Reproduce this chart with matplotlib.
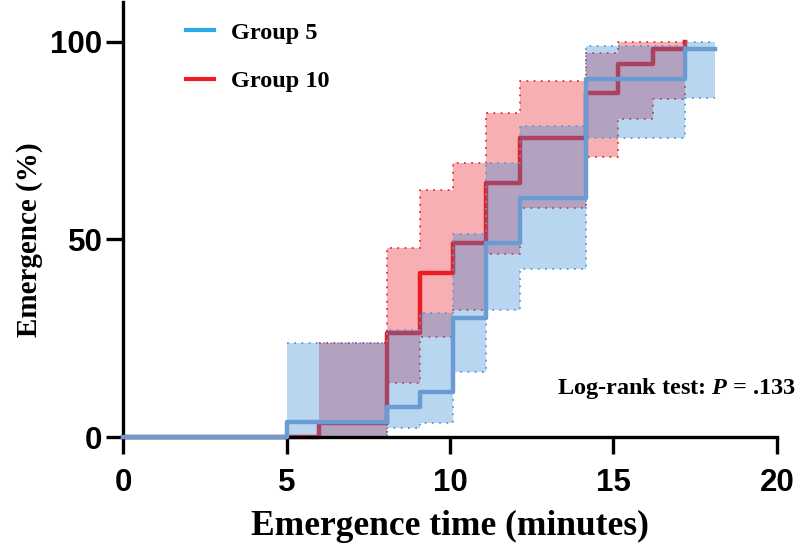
import matplotlib
matplotlib.use("Agg")
import matplotlib.pyplot as plt
from matplotlib.lines import Line2D

# ---- data ----
t5 = [0, 5.0, 8.07, 9.07, 10.1, 11.1, 12.15, 14.15, 17.2, 18.1]
s5 = [0, 3.8, 7.6, 11.4, 30.1, 49.0, 60.5, 90.6, 98.2, 98.2]
hi5 = [0, 23.8, 27.0, 31.4, 51.4, 69.3, 78.6, 99.0, 100, 100]
lo5 = [0, 0, 2.3, 3.6, 16.5, 32.1, 42.5, 75.5, 85.8, 85.8]

t10 = [0, 6.0, 8.07, 9.07, 10.1, 11.1, 12.15, 14.15, 15.15, 16.2, 17.2]
s10 = [0, 3.5, 26.3, 41.5, 49.0, 64.3, 75.5, 87.0, 94.4, 98.2, 100]
hi10 = [0, 23.8, 47.8, 62.5, 69.3, 82.0, 90.0, 97.2, 100, 100, 100]
lo10 = [0, 0, 13.7, 25.3, 32.1, 46.3, 58.0, 70.9, 80.5, 85.6, 100]

groups = ["Group 5", "Group 10"]
xticks = [0, 5, 10, 15, 20]
yticks = [0, 50, 100]
annot = "Log-rank test: $\\boldsymbol{P}$ = .133"

# ---- styles ----
blue_line = "#6A9BD2"
blue_fill = "#348AD4"
blue_dot = "#5B9BD8"
red_line = "#EC1C24"
red_fill = "#F7AFB4"
red_dot = "#E8303A"
leg_blue = "#2EA8E0"
leg_red = "#EE1C24"

plt.rcParams["mathtext.fontset"] = "custom"
plt.rcParams["mathtext.bfit"] = "Liberation Serif:bold:italic"

fig = plt.figure(figsize=(8.0, 5.52), dpi=100)
ax = fig.add_axes([0.154, 0.2083, 0.817, 0.788])

dot = (0, (1, 3))

# red group (drawn first)
ax.fill_between(t10, lo10, hi10, step="post", color=red_fill, lw=0, zorder=1)
ax.step(t10[1:], hi10[1:], where="post", color=red_dot, lw=1.3, ls=dot, zorder=2)
ax.step(t10[1:], lo10[1:], where="post", color=red_dot, lw=1.3, ls=dot, zorder=2)
ax.step(t10, s10, where="post", color=red_line, lw=3.2, zorder=3, clip_on=False)

# blue group
ax.fill_between(t5, lo5, hi5, step="post", color=blue_fill, alpha=0.35, lw=0, zorder=4)
ax.step(t5[1:], hi5[1:], where="post", color=blue_dot, lw=1.3, ls=dot, zorder=5)
ax.step(t5[1:], lo5[1:], where="post", color=blue_dot, lw=1.3, ls=dot, zorder=5)
ax.step(t5, s5, where="post", color=blue_line, lw=3.2, zorder=6, clip_on=False)

ax.set_xlim(0, 20)
ax.set_ylim(0, 110)
ax.set_xticks(xticks)
ax.set_yticks(yticks)

for side in ["top", "right"]:
    ax.spines[side].set_visible(False)
for side in ["left", "bottom"]:
    ax.spines[side].set_linewidth(2.4)
    ax.spines[side].set_zorder(5.5)

ax.tick_params(axis="both", direction="out", length=12, width=2.4, color="black")
ax.tick_params(axis="x", pad=10)
ax.tick_params(axis="y", pad=3)
for lab in ax.get_xticklabels() + ax.get_yticklabels():
    lab.set_fontfamily("Liberation Sans")
    lab.set_fontweight("bold")
    lab.set_fontsize(22.5)

ax.set_xlabel("Emergence time (minutes)", fontfamily="Liberation Serif",
              fontweight="bold", fontsize=25.5, labelpad=9)
ax.set_ylabel("Emergence (%)", fontfamily="Liberation Serif",
              fontweight="bold", fontsize=21)
ax.yaxis.set_label_coords(-0.122, 50 / 110)

handles = [Line2D([0], [0], color=leg_blue, lw=3.0),
           Line2D([0], [0], color=leg_red, lw=3.0)]
leg = ax.legend(handles, groups, loc="upper left", bbox_to_anchor=(0.096, 0.955),
                frameon=False, handlelength=1.15, handletextpad=0.7,
                labelspacing=1.1, borderaxespad=0, borderpad=0,
                prop={"family": "Liberation Serif", "weight": "bold", "size": 17.5})

fig.text(0.996, 0.296, annot, ha="right", va="center",
         fontfamily="Liberation Serif", fontweight="bold", fontsize=17.5)

fig.savefig("out.png", dpi=100)
